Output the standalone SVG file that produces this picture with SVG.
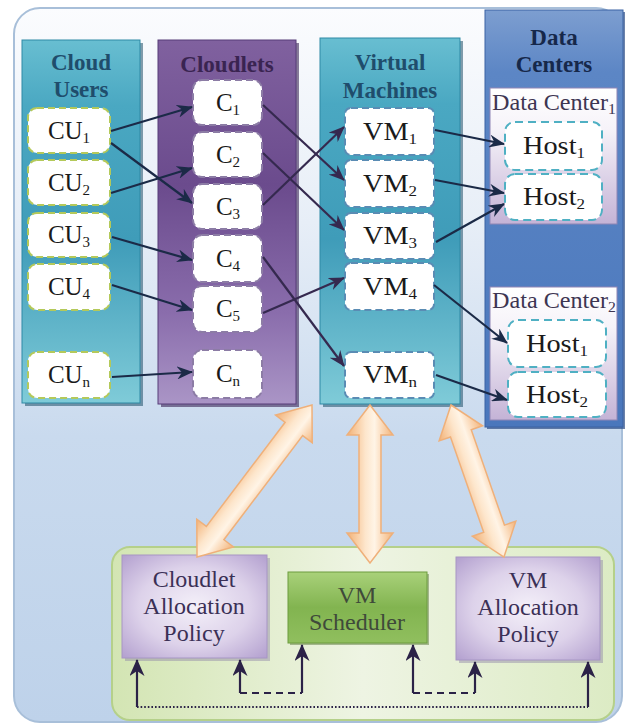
<svg xmlns="http://www.w3.org/2000/svg" width="630" height="727" viewBox="0 0 630 727">
  <defs>
    <linearGradient id="bgGrad" x1="0" y1="0" x2="0" y2="1">
      <stop offset="0" stop-color="#fbfcfe"/>
      <stop offset="0.3" stop-color="#e7eef7"/>
      <stop offset="0.6" stop-color="#c9daee"/>
      <stop offset="1" stop-color="#bed2ea"/>
    </linearGradient>
    <linearGradient id="tealGrad" x1="0" y1="0" x2="0" y2="1">
      <stop offset="0" stop-color="#68bed1"/>
      <stop offset="0.18" stop-color="#4aa8c2"/>
      <stop offset="0.55" stop-color="#3f9cb9"/>
      <stop offset="1" stop-color="#7fcbd8"/>
    </linearGradient>
    <linearGradient id="purpleGrad" x1="0" y1="0" x2="0" y2="1">
      <stop offset="0" stop-color="#80619f"/>
      <stop offset="0.4" stop-color="#6b4b8d"/>
      <stop offset="0.75" stop-color="#8a6dac"/>
      <stop offset="1" stop-color="#aa95c6"/>
    </linearGradient>
    <linearGradient id="dcGrad" x1="0" y1="0" x2="0" y2="1">
      <stop offset="0" stop-color="#7d9ed0"/>
      <stop offset="0.15" stop-color="#5c86c5"/>
      <stop offset="1" stop-color="#4a77bc"/>
    </linearGradient>
    <linearGradient id="dcPanelGrad" x1="0" y1="0" x2="0" y2="1">
      <stop offset="0" stop-color="#ffffff"/>
      <stop offset="0.3" stop-color="#f6f3f9"/>
      <stop offset="1" stop-color="#c4b3d6"/>
    </linearGradient>
    <linearGradient id="greenPanel" x1="0" y1="0" x2="1" y2="0">
      <stop offset="0" stop-color="#d3e5b3"/>
      <stop offset="0.5" stop-color="#eef4e3"/>
      <stop offset="1" stop-color="#dcebc4"/>
    </linearGradient>
    <radialGradient id="policyGrad" cx="0.5" cy="0.5" r="0.7">
      <stop offset="0" stop-color="#f4f0f9"/>
      <stop offset="0.55" stop-color="#ddd2ea"/>
      <stop offset="1" stop-color="#b3a0cf"/>
    </radialGradient>
    <linearGradient id="schedGrad" x1="0" y1="0" x2="0" y2="1">
      <stop offset="0" stop-color="#a9d17a"/>
      <stop offset="0.5" stop-color="#82b450"/>
      <stop offset="1" stop-color="#90bf5e"/>
    </linearGradient>
    <linearGradient id="peachGrad" x1="0" y1="0" x2="0" y2="1">
      <stop offset="0" stop-color="#f3b47a"/>
      <stop offset="0.4" stop-color="#fff4e6"/>
      <stop offset="0.6" stop-color="#fde6cc"/>
      <stop offset="1" stop-color="#f2b176"/>
    </linearGradient>
    <marker id="arrowDark" markerUnits="userSpaceOnUse" markerWidth="16" markerHeight="13" refX="15" refY="6.5" orient="auto">
      <path d="M0,0 L16,6.5 L0,13 L5,6.5 Z" fill="#1b2a47"/>
    </marker>
    <marker id="arrowPurple" markerUnits="userSpaceOnUse" markerWidth="16" markerHeight="13" refX="15" refY="6.5" orient="auto">
      <path d="M0,0 L16,6.5 L0,13 L5,6.5 Z" fill="#35294f"/>
    </marker>
    <marker id="arrowFb" markerUnits="userSpaceOnUse" markerWidth="17" markerHeight="15" refX="16" refY="7.5" orient="auto">
      <path d="M0,0 L17,7.5 L0,15 L5,7.5 Z" fill="#2b2247"/>
    </marker>
  </defs>
  <style>
    text { font-family: "Liberation Serif", "Times New Roman", Times, Tinos, "Noto Serif", "DejaVu Serif", "Nimbus Roman", FreeSerif, serif; }
    .title { font-weight: bold; font-size: 23px; text-anchor: middle; }
    .lbl { font-size: 25px; fill: #1a1a1a; text-anchor: middle; }
    .sub { font-size: 15px; }
    .dcl { font-size: 23px; fill: #3d3552; }
    .pol { font-size: 24px; fill: #3b3056; text-anchor: middle; }
    .sch { fill: #3f4a3a; }
    .cu { fill: #ffffff; stroke: #b4c95a; stroke-width: 2; stroke-dasharray: 7 4; }
    .cl { fill: #ffffff; stroke: #8c7ca5; stroke-width: 2; stroke-dasharray: 7 4; }
    .vm { fill: #ffffff; stroke: #5a8cb4; stroke-width: 2; stroke-dasharray: 7 4; }
    .host { fill: #ffffff; stroke: #4fb0c3; stroke-width: 2; stroke-dasharray: 8 5; }
    .shadow { fill: #1e4f68; opacity: 0.55; }
    .conn { fill: none; stroke: #1b2a47; stroke-width: 2.2; marker-end: url(#arrowDark); }
    .conn2 { fill: none; stroke: #35294f; stroke-width: 2.2; marker-end: url(#arrowPurple); }
    .fb { fill: none; stroke: #2b2247; stroke-width: 2.2; }
    .fbArrow { fill: none; stroke: #2b2247; stroke-width: 2.2; marker-end: url(#arrowFb); }
    .big { fill: url(#peachGrad); stroke: #efb07a; stroke-width: 1.5; }
  </style>

  <!-- outer frame -->
  <rect x="14" y="8" width="608" height="714" rx="26" fill="url(#bgGrad)" stroke="#a8bfd9" stroke-width="2"/>

  <!-- Cloud Users column -->
  <g id="cloud-users">
    <rect class="shadow" x="25" y="43" width="118" height="363"/>
    <rect x="22" y="40" width="118" height="363" fill="url(#tealGrad)" stroke="#2f89a5" stroke-width="1"/>
    <text class="title" x="81" y="70" fill="#1f4d6c">Cloud</text>
    <text class="title" x="81" y="97" fill="#1f4d6c">Users</text>
    <g id="cu1"><rect class="cu" x="28" y="108" width="82" height="45" rx="9"/><text class="lbl" x="69" y="139">CU<tspan class="sub" dy="4">1</tspan></text></g>
    <g id="cu2"><rect class="cu" x="28" y="160" width="82" height="45" rx="9"/><text class="lbl" x="69" y="191">CU<tspan class="sub" dy="4">2</tspan></text></g>
    <g id="cu3"><rect class="cu" x="28" y="213" width="82" height="44" rx="9"/><text class="lbl" x="69" y="243">CU<tspan class="sub" dy="4">3</tspan></text></g>
    <g id="cu4"><rect class="cu" x="28" y="264" width="82" height="46" rx="9"/><text class="lbl" x="69" y="295">CU<tspan class="sub" dy="4">4</tspan></text></g>
    <g id="cun"><rect class="cu" x="28" y="352" width="82" height="46" rx="9"/><text class="lbl" x="69" y="383">CU<tspan class="sub" dy="4">n</tspan></text></g>
  </g>

  <!-- Cloudlets column -->
  <g id="cloudlets">
    <rect x="161" y="43" width="138" height="364" fill="#3c2656" opacity="0.6"/>
    <rect x="158" y="40" width="138" height="364" fill="url(#purpleGrad)" stroke="#563c78" stroke-width="1"/>
    <text class="title" x="227" y="72" fill="#3a2451">Cloudlets</text>
    <g id="c1"><rect class="cl" x="193" y="80" width="69" height="45" rx="9"/><text class="lbl" x="228" y="111">C<tspan class="sub" dy="4">1</tspan></text></g>
    <g id="c2"><rect class="cl" x="193" y="132" width="69" height="45" rx="9"/><text class="lbl" x="228" y="163">C<tspan class="sub" dy="4">2</tspan></text></g>
    <g id="c3"><rect class="cl" x="193" y="184" width="69" height="45" rx="9"/><text class="lbl" x="228" y="215">C<tspan class="sub" dy="4">3</tspan></text></g>
    <g id="c4"><rect class="cl" x="193" y="235" width="69" height="47" rx="9"/><text class="lbl" x="228" y="267">C<tspan class="sub" dy="4">4</tspan></text></g>
    <g id="c5"><rect class="cl" x="193" y="286" width="69" height="46" rx="9"/><text class="lbl" x="228" y="317">C<tspan class="sub" dy="4">5</tspan></text></g>
    <g id="cn"><rect class="cl" x="193" y="350" width="69" height="48" rx="9"/><text class="lbl" x="228" y="382">C<tspan class="sub" dy="4">n</tspan></text></g>
  </g>

  <!-- Virtual Machines column -->
  <g id="virtual-machines">
    <rect class="shadow" x="323" y="41" width="140" height="366"/>
    <rect x="320" y="38" width="140" height="366" fill="url(#tealGrad)" stroke="#2f89a5" stroke-width="1"/>
    <text class="title" x="390" y="70" fill="#1f4d6c">Virtual</text>
    <text class="title" x="390" y="98" fill="#1f4d6c">Machines</text>
    <g id="vm1"><rect class="vm" x="345" y="108" width="89" height="47" rx="6"/><text class="lbl" x="390" y="140" textLength="54" lengthAdjust="spacingAndGlyphs">VM<tspan class="sub" dy="4">1</tspan></text></g>
    <g id="vm2"><rect class="vm" x="345" y="160" width="89" height="47" rx="6"/><text class="lbl" x="390" y="192" textLength="54" lengthAdjust="spacingAndGlyphs">VM<tspan class="sub" dy="4">2</tspan></text></g>
    <g id="vm3"><rect class="vm" x="345" y="213" width="89" height="46" rx="6"/><text class="lbl" x="390" y="244" textLength="54" lengthAdjust="spacingAndGlyphs">VM<tspan class="sub" dy="4">3</tspan></text></g>
    <g id="vm4"><rect class="vm" x="345" y="263" width="89" height="47" rx="6"/><text class="lbl" x="390" y="295" textLength="54" lengthAdjust="spacingAndGlyphs">VM<tspan class="sub" dy="4">4</tspan></text></g>
    <g id="vmn"><rect class="vm" x="345" y="352" width="89" height="46" rx="6"/><text class="lbl" x="390" y="383" textLength="54" lengthAdjust="spacingAndGlyphs">VM<tspan class="sub" dy="4">n</tspan></text></g>
  </g>

  <!-- Data Centers column -->
  <g id="data-centers">
    <rect x="487" y="12" width="138" height="417" fill="#2d4f88" opacity="0.7"/>
    <rect x="485" y="10" width="138" height="417" fill="url(#dcGrad)" stroke="#3b63a3" stroke-width="1"/>
    <text class="title" x="554" y="45" fill="#16284a">Data</text>
    <text class="title" x="554" y="72" fill="#16284a">Centers</text>
    <g id="dc1">
      <rect x="490" y="88" width="127" height="136" fill="url(#dcPanelGrad)" stroke="#8f86b5" stroke-width="1"/>
      <text class="dcl" x="492" y="110" textLength="124" lengthAdjust="spacingAndGlyphs">Data Center<tspan class="sub" dy="4">1</tspan></text>
      <g id="dc1-host1"><rect class="host" x="505" y="122" width="97" height="48" rx="10"/><text class="lbl" x="554" y="154" textLength="62" lengthAdjust="spacingAndGlyphs">Host<tspan class="sub" dy="4">1</tspan></text></g>
      <g id="dc1-host2"><rect class="host" x="505" y="174" width="97" height="46" rx="10"/><text class="lbl" x="554" y="205" textLength="62" lengthAdjust="spacingAndGlyphs">Host<tspan class="sub" dy="4">2</tspan></text></g>
    </g>
    <g id="dc2">
      <rect x="490" y="287" width="127" height="133" fill="url(#dcPanelGrad)" stroke="#8f86b5" stroke-width="1"/>
      <text class="dcl" x="492" y="308" textLength="124" lengthAdjust="spacingAndGlyphs">Data Center<tspan class="sub" dy="4">2</tspan></text>
      <g id="dc2-host1"><rect class="host" x="508" y="320" width="98" height="47" rx="10"/><text class="lbl" x="557" y="352" textLength="62" lengthAdjust="spacingAndGlyphs">Host<tspan class="sub" dy="4">1</tspan></text></g>
      <g id="dc2-host2"><rect class="host" x="508" y="372" width="98" height="45" rx="10"/><text class="lbl" x="557" y="403" textLength="62" lengthAdjust="spacingAndGlyphs">Host<tspan class="sub" dy="4">2</tspan></text></g>
    </g>
  </g>

  <!-- connectors between columns -->
  <g id="connectors">
    <line class="conn" x1="111" y1="131" x2="192" y2="107"/>
    <line class="conn" x1="111" y1="143" x2="192" y2="203"/>
    <line class="conn" x1="111" y1="193" x2="192" y2="168"/>
    <line class="conn" x1="112" y1="237" x2="192" y2="260"/>
    <line class="conn" x1="112" y1="285" x2="192" y2="310"/>
    <line class="conn" x1="112" y1="377" x2="192" y2="372"/>

    <line class="conn2" x1="263" y1="105" x2="344" y2="180"/>
    <line class="conn2" x1="263" y1="153" x2="344" y2="230"/>
    <line class="conn2" x1="263" y1="205" x2="344" y2="127"/>
    <line class="conn2" x1="263" y1="257" x2="344" y2="366"/>
    <line class="conn2" x1="263" y1="313" x2="344" y2="278"/>

    <line class="conn" x1="435" y1="130" x2="504" y2="144"/>
    <line class="conn" x1="435" y1="180" x2="504" y2="193"/>
    <line class="conn" x1="436" y1="242" x2="504" y2="204"/>
    <line class="conn" x1="434" y1="285" x2="507" y2="343"/>
    <line class="conn" x1="436" y1="375" x2="507" y2="400"/>
  </g>

  <!-- policy panel -->
  <g id="policy-panel">
    <rect x="112" y="547" width="502" height="173" rx="18" fill="url(#greenPanel)" stroke="#b5d08a" stroke-width="2"/>
  </g>
  <g id="cloudlet-allocation-policy">
    <rect x="125" y="558" width="145" height="103" fill="#8f86a6" opacity="0.45"/>
    <rect x="122" y="555" width="145" height="103" fill="url(#policyGrad)" stroke="#a796c4" stroke-width="1"/>
    <text class="pol" x="194" y="587">Cloudlet</text>
    <text class="pol" x="194" y="614">Allocation</text>
    <text class="pol" x="194" y="641">Policy</text>
  </g>
  <g id="vm-scheduler">
    <rect x="290" y="574" width="139" height="71" fill="#4d6e2c" opacity="0.45"/>
    <rect x="288" y="572" width="139" height="71" fill="url(#schedGrad)" stroke="#6c9c3e" stroke-width="1"/>
    <text class="pol sch" x="357" y="603">VM</text>
    <text class="pol sch" x="357" y="630">Scheduler</text>
  </g>
  <g id="vm-allocation-policy">
    <rect x="459" y="560" width="144" height="103" fill="#8f86a6" opacity="0.45"/>
    <rect x="456" y="557" width="144" height="103" fill="url(#policyGrad)" stroke="#a796c4" stroke-width="1"/>
    <text class="pol" x="528" y="588">VM</text>
    <text class="pol" x="528" y="615">Allocation</text>
    <text class="pol" x="528" y="642">Policy</text>
  </g>

  <!-- two-way links between the columns and the policy components -->
  <g id="policy-links">
    <g transform="translate(312 405) rotate(127.1)">
      <polygon class="big" points="0,0 30,-23 30,-11 160.6,-11 160.6,-23 190.6,0 160.6,23 160.6,11 30,11 30,23"/>
    </g>
    <g transform="translate(370 405) rotate(90)">
      <polygon class="big" points="0,0 30,-23 30,-11 128,-11 128,-23 158,0 128,23 128,11 30,11 30,23"/>
    </g>
    <g transform="translate(451 405) rotate(70.8)">
      <polygon class="big" points="0,0 30,-23 30,-11 131,-11 131,-23 161,0 131,23 131,11 30,11 30,23"/>
    </g>
  </g>

  <!-- feedback paths inside the policy panel -->
  <g id="feedback">
    <path class="fb" d="M137,707 H588" stroke-dasharray="1.6 2"/>
    <path class="fbArrow" d="M137,707 V660"/>
    <path class="fbArrow" d="M588,707 V662"/>
    <path class="fb" d="M240,693 H302" stroke-dasharray="7 5"/>
    <path class="fbArrow" d="M240,693 V660"/>
    <path class="fbArrow" d="M302,693 V645"/>
    <path class="fb" d="M413,693 H475" stroke-dasharray="7 5"/>
    <path class="fbArrow" d="M413,693 V645"/>
    <path class="fbArrow" d="M475,693 V662"/>
  </g>
</svg>
